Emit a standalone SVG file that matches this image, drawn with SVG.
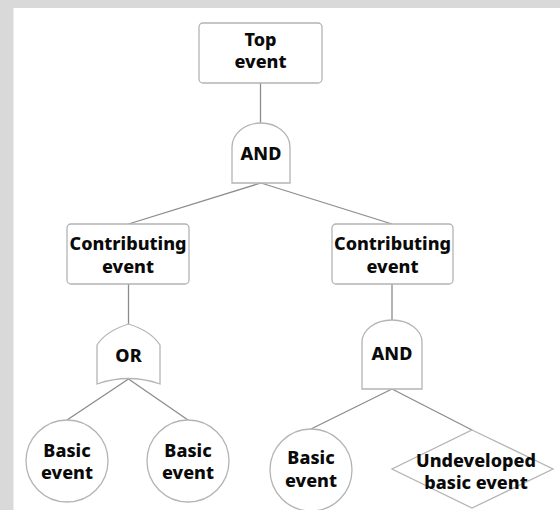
<svg xmlns="http://www.w3.org/2000/svg" width="560" height="510" viewBox="0 0 560 510">
<style>
.bg{fill:#d9d9d9}
.panel{fill:#ffffff}
.shape{fill:#ffffff;stroke:#b4b4b4;stroke-width:1.3}
.conn line{stroke:#8c8c8c;stroke-width:1.3}
text{font-family:"Noto Sans","Open Sans","DejaVu Sans",sans-serif;font-weight:800;font-size:18px;fill:#0a0a0a;text-anchor:middle}
</style>
<rect class="bg" x="0" y="0" width="560" height="510"/>
<rect class="panel" x="13.5" y="8" width="546.5" height="502"/>
<g id="connectors" class="conn">
<line x1="260.5" y1="83" x2="260.5" y2="123"/>
<line x1="261" y1="183" x2="128.5" y2="224"/>
<line x1="261" y1="183" x2="392" y2="224"/>
<line x1="128.5" y1="284" x2="128.5" y2="324"/>
<line x1="392" y1="284" x2="392" y2="320"/>
<line x1="128.5" y1="379" x2="67" y2="420"/>
<line x1="128.5" y1="379" x2="188" y2="420"/>
<line x1="392" y1="389" x2="311" y2="429"/>
<line x1="392" y1="389" x2="472" y2="430"/>
</g>
<g id="top-event">
<rect class="shape" x="199" y="23" width="123" height="60" rx="4"/>
<text x="260.5" y="46">Top</text>
<text x="260.5" y="68">event</text>
</g>
<g id="and-gate-top">
<path class="shape" d="M232,183 L232,147 A29,24 0 0 1 290,147 L290,183 Z"/>
<text x="261" y="160">AND</text>
</g>
<g id="contributing-left">
<rect class="shape" x="67" y="224" width="122" height="60" rx="4"/>
<text x="128" y="250">Contributing</text>
<text x="128" y="273">event</text>
</g>
<g id="contributing-right">
<rect class="shape" x="332" y="224" width="121" height="60" rx="4"/>
<text x="392.5" y="250">Contributing</text>
<text x="392.5" y="273">event</text>
</g>
<g id="or-gate">
<path class="shape" d="M97,384 L97,345 Q106,331 128.5,324 Q151,331 160,345 L160,384 Q128.5,373 97,384 Z"/>
<text x="128.5" y="362">OR</text>
</g>
<g id="and-gate-right">
<path class="shape" d="M362,389 L362,342 A30,22 0 0 1 422,342 L422,389 Z"/>
<text x="392" y="360">AND</text>
</g>
<g id="basic-event-1">
<circle class="shape" cx="67" cy="461" r="41"/>
<text x="67" y="457">Basic</text>
<text x="67" y="479">event</text>
</g>
<g id="basic-event-2">
<circle class="shape" cx="188" cy="461" r="41"/>
<text x="188" y="457">Basic</text>
<text x="188" y="479">event</text>
</g>
<g id="basic-event-3">
<circle class="shape" cx="311" cy="470" r="41"/>
<text x="311" y="464">Basic</text>
<text x="311" y="487">event</text>
</g>
<g id="undeveloped-event">
<polygon class="shape" points="472,430 553,469 472,508 392,469"/>
<text x="476" y="467">Undeveloped</text>
<text x="476" y="489">basic event</text>
</g>
</svg>
